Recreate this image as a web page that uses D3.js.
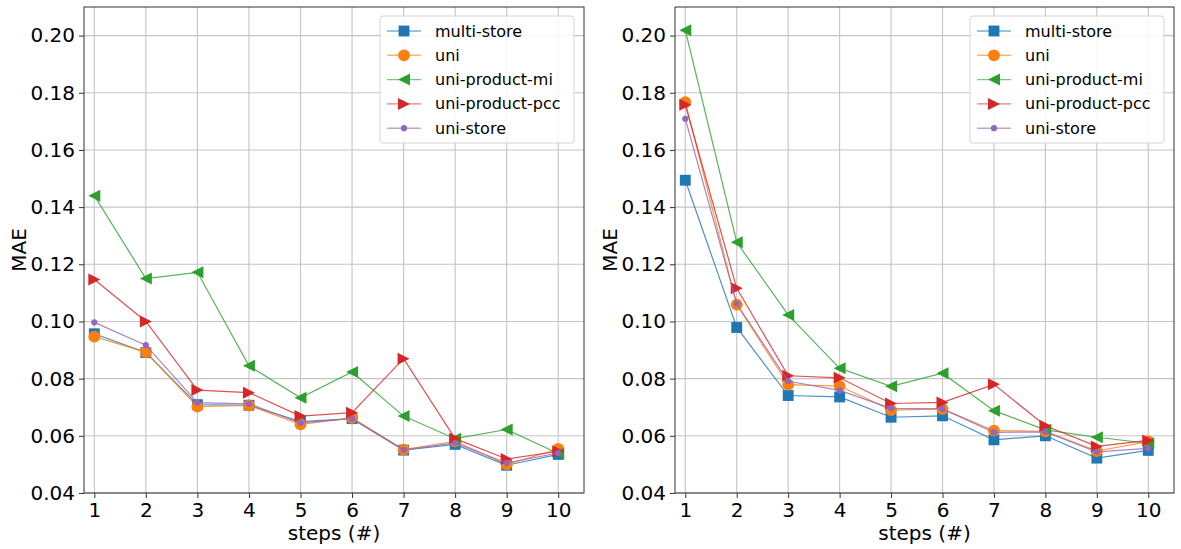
<!DOCTYPE html>
<html lang="en">

<head>
    <meta charset="UTF-8">
    <title>MAE per step</title>

    <script src="https://d3js.org/d3.v7.min.js"></script>

    <style>
        body {
            margin: 0;
            background: #fff;
        }

        svg text {
            font-family: "DejaVu Sans", sans-serif;
            fill: #000;
        }

        .tick text {
            font-size: 20px;
        }

        .legendText {
            font-size: 16px;
        }
    </style>
</head>

<body>
    <svg width="1181" height="549"></svg>

    <script>
        const steps = [1, 2, 3, 4, 5, 6, 7, 8, 9, 10];
        const seriesNames = ["multi-store", "uni", "uni-product-mi", "uni-product-pcc", "uni-store"];
        const seriesColors = ["#1f77b4", "#ff7f0e", "#2ca02c", "#d62728", "#9467bd"];
        const yTicks = [0.04, 0.06, 0.08, 0.10, 0.12, 0.14, 0.16, 0.18, 0.20];

        // left panel
        const leftMultiStore = [0.0957, 0.0891, 0.0709, 0.0707, 0.0650, 0.0660, 0.0550, 0.0570, 0.0497, 0.0535];
        const leftUni = [0.0947, 0.0893, 0.0702, 0.0706, 0.0640, 0.0663, 0.0552, 0.0581, 0.0500, 0.0554];
        const leftUniProductMi = [0.1440, 0.1150, 0.1172, 0.0845, 0.0733, 0.0823, 0.0669, 0.0590, 0.0622, 0.0538];
        const leftUniProductPcc = [0.1147, 0.1000, 0.0760, 0.0751, 0.0669, 0.0681, 0.0870, 0.0590, 0.0519, 0.0546];
        const leftUniStore = [0.0997, 0.0917, 0.0716, 0.0712, 0.0645, 0.0660, 0.0551, 0.0575, 0.0505, 0.0540];

        // right panel
        const rightMultiStore = [0.1494, 0.0979, 0.0741, 0.0736, 0.0665, 0.0670, 0.0586, 0.0600, 0.0522, 0.0549];
        const rightUni = [0.1767, 0.1059, 0.0779, 0.0774, 0.0690, 0.0694, 0.0618, 0.0616, 0.0547, 0.0580];
        const rightUniProductMi = [0.2019, 0.1277, 0.1023, 0.0836, 0.0773, 0.0819, 0.0688, 0.0621, 0.0595, 0.0574];
        const rightUniProductPcc = [0.1758, 0.1116, 0.0810, 0.0803, 0.0713, 0.0717, 0.0780, 0.0635, 0.0563, 0.0584];
        const rightUniStore = [0.1709, 0.1062, 0.0791, 0.0759, 0.0696, 0.0694, 0.0612, 0.0614, 0.0544, 0.0556];

        // marker shapes like matplotlib s, o, <, >, .
        const triLeft = {
            draw(ctx, size) {
                const r = Math.sqrt(size) / 2;
                ctx.moveTo(-r, 0); ctx.lineTo(r, -r); ctx.lineTo(r, r); ctx.closePath();
            }
        };
        const triRight = {
            draw(ctx, size) {
                const r = Math.sqrt(size) / 2;
                ctx.moveTo(r, 0); ctx.lineTo(-r, -r); ctx.lineTo(-r, r); ctx.closePath();
            }
        };
        const markerTypes = [d3.symbolSquare, d3.symbolCircle, triLeft, triRight, d3.symbolCircle];
        const markerSizes = [118, 110, 144, 144, 30];

        let svgContainer = d3.select("svg");

        function drawPanel(left, right, data) {
            const top = 7, bottom = 493;

            let xScale = d3.scaleLinear().domain([0.8, 10.5]).range([left, right]);
            let yScale = d3.scaleLinear().domain([0.04, 0.21]).range([bottom, top]);

            let g = svgContainer.append("g");

            // grid
            g.append("g")
                .selectAll("line.vgrid")
                .data(steps)
                .enter()
                .append("line")
                .attr("x1", d => xScale(d)).attr("x2", d => xScale(d))
                .attr("y1", top).attr("y2", bottom)
                .attr("stroke", "#c4c4c4").attr("stroke-width", 1.1);
            g.append("g")
                .selectAll("line.hgrid")
                .data(yTicks)
                .enter()
                .append("line")
                .attr("x1", left).attr("x2", right)
                .attr("y1", d => yScale(d)).attr("y2", d => yScale(d))
                .attr("stroke", "#c4c4c4").attr("stroke-width", 1.1);

            // axes
            let xAxis = d3.axisBottom(xScale).tickValues(steps).tickSize(5).tickPadding(5)
                .tickFormat(d3.format("d"));
            let yAxis = d3.axisLeft(yScale).tickValues(yTicks).tickSize(5).tickPadding(4)
                .tickFormat(d3.format(".2f"));

            g.append("g").attr("transform", `translate(0,${bottom})`).call(xAxis)
                .call(a => a.select(".domain").remove())
                .selectAll("line").attr("stroke", "#333");
            g.append("g").attr("transform", `translate(${left},0)`).call(yAxis)
                .call(a => a.select(".domain").remove())
                .selectAll("line").attr("stroke", "#333");

            // series
            let line = d3.line()
                .x((d, i) => xScale(steps[i]))
                .y(d => yScale(d));

            data.forEach(function (values, k) {
                g.append("path")
                    .attr("d", line(values))
                    .attr("fill", "none")
                    .attr("stroke", seriesColors[k])
                    .attr("stroke-width", 1.2)
                    .attr("stroke-opacity", 0.8);

                g.append("g")
                    .selectAll("path")
                    .data(values)
                    .enter()
                    .append("path")
                    .attr("transform", (d, i) => `translate(${xScale(steps[i])},${yScale(d)})`)
                    .attr("d", d3.symbol().type(markerTypes[k]).size(markerSizes[k]))
                    .attr("fill", seriesColors[k]);
            });

            // frame
            g.append("rect")
                .attr("x", left).attr("y", top)
                .attr("width", right - left).attr("height", bottom - top)
                .attr("fill", "none").attr("stroke", "#333").attr("stroke-width", 1);

            // labels
            g.append("text")
                .attr("x", (left + right) / 2).attr("y", 540)
                .attr("text-anchor", "middle")
                .style("font-size", "20px")
                .text("steps (#)");
            g.append("text")
                .attr("transform", `translate(${left - 65},${(top + bottom) / 2}) rotate(-90)`)
                .attr("text-anchor", "middle")
                .attr("dominant-baseline", "central")
                .style("font-size", "20px")
                .text("MAE");

            // legend
            const lx = right - 204, ly = 16;
            let legend = g.append("g");
            legend.append("rect")
                .attr("x", lx).attr("y", ly)
                .attr("width", 194).attr("height", 127)
                .attr("rx", 3)
                .attr("fill", "#fff").attr("fill-opacity", 0.85)
                .attr("stroke", "#d5d5d5");

            seriesNames.forEach(function (name, k) {
                const cy = ly + 15 + k * 24.3;
                legend.append("line")
                    .attr("x1", lx + 7).attr("x2", lx + 41)
                    .attr("y1", cy).attr("y2", cy)
                    .attr("stroke", seriesColors[k])
                    .attr("stroke-width", 1.4)
                    .attr("stroke-opacity", 0.6);
                legend.append("path")
                    .attr("transform", `translate(${lx + 24},${cy})`)
                    .attr("d", d3.symbol().type(markerTypes[k]).size(markerSizes[k]))
                    .attr("fill", seriesColors[k]);
                legend.append("text")
                    .attr("class", "legendText")
                    .attr("x", lx + 55).attr("y", cy)
                    .attr("dominant-baseline", "central")
                    .text(name);
            });
        }

        drawPanel(84, 584, [leftMultiStore, leftUni, leftUniProductMi, leftUniProductPcc, leftUniStore]);
        drawPanel(675, 1174, [rightMultiStore, rightUni, rightUniProductMi, rightUniProductPcc, rightUniStore]);
    </script>
</body>

</html>
